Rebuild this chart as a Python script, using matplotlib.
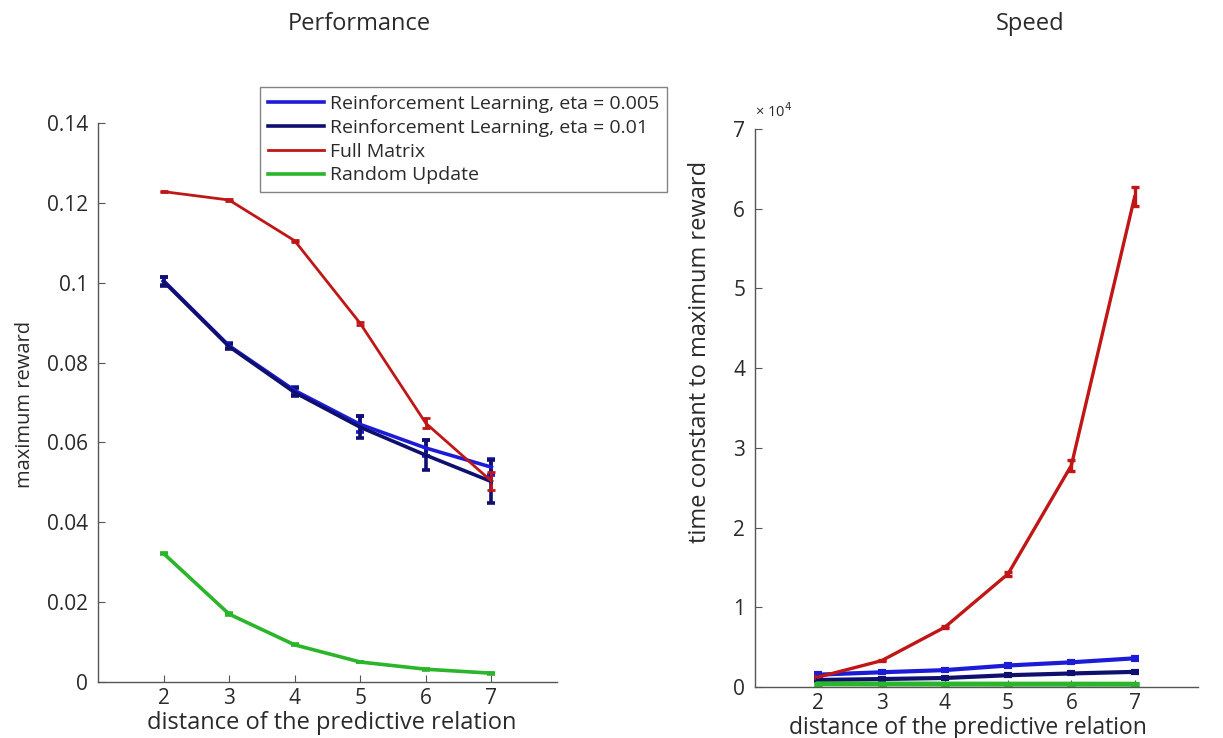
import numpy as np
import matplotlib.pyplot as plt

plt.rcParams['font.family'] = ['Open Sans', 'DejaVu Sans']

dist = [2, 3, 4, 5, 6, 7]

# performance: maximum reward (mean and error)
rl005_perf = [0.1005, 0.0842, 0.0730, 0.0645, 0.0586, 0.0538]
rl005_perf_err = [0.0010, 0.0006, 0.0008, 0.0020, 0.0020, 0.0020]
rl01_perf = [0.1003, 0.0840, 0.0725, 0.0638, 0.0568, 0.0502]
rl01_perf_err = [0.0012, 0.0006, 0.0010, 0.0028, 0.0038, 0.0055]
full_perf = [0.1228, 0.1207, 0.1105, 0.0898, 0.0648, 0.0503]
full_perf_err = [0.0002, 0.0002, 0.0002, 0.0003, 0.0012, 0.0022]
rand_perf = [0.0322, 0.0170, 0.0093, 0.0050, 0.0032, 0.0022]
rand_perf_err = [0.0002, 0.0002, 0.0001, 0.0001, 0.0001, 0.0001]

# speed: time constant to maximum reward
rl005_speed = [1550, 1850, 2120, 2700, 3100, 3600]
rl005_speed_err = [150, 120, 120, 150, 150, 200]
rl01_speed = [880, 1000, 1130, 1480, 1700, 1900]
rl01_speed_err = [100, 100, 100, 120, 120, 150]
full_speed = [1250, 3300, 7500, 14200, 27800, 61500]
full_speed_err = [100, 100, 150, 250, 700, 1200]
rand_speed = [400, 380, 370, 360, 360, 350]
rand_speed_err = [30, 30, 30, 30, 30, 30]

labels = ['Reinforcement Learning, eta = 0.005',
          'Reinforcement Learning, eta = 0.01',
          'Full Matrix',
          'Random Update']
colors = ['#1c1cd8', '#0f0f70', '#c01616', '#2bb52b']
widths_perf = [2.6, 2.6, 2.0, 2.6]
widths_speed = [3.0, 3.0, 2.4, 3.6]

text_col = '#2a2a2a'
spine_col = '#555555'

fig = plt.figure(figsize=(12.23, 7.38), dpi=100)
ax1 = fig.add_axes([0.0801, 0.0759, 0.3753, 0.7575])
ax2 = fig.add_axes([0.6173, 0.0691, 0.3622, 0.7561])


def style(ax):
    for s in ['top', 'right']:
        ax.spines[s].set_visible(False)
    for s in ['left', 'bottom']:
        ax.spines[s].set_color(spine_col)
        ax.spines[s].set_linewidth(1.0)
    ax.tick_params(direction='in', length=5, color=spine_col, labelsize=15,
                   labelcolor=text_col)
    ax.tick_params(axis='y', pad=7)
    ax.tick_params(axis='x', pad=4)
    ax.set_xlim(1, 8)
    ax.set_xticks(dist)


perf = [(rl005_perf, rl005_perf_err), (rl01_perf, rl01_perf_err),
        (full_perf, full_perf_err), (rand_perf, rand_perf_err)]
speed = [(rl005_speed, rl005_speed_err), (rl01_speed, rl01_speed_err),
         (full_speed, full_speed_err), (rand_speed, rand_speed_err)]

handles = []
for (y, e), c, w, lab in zip(perf, colors, widths_perf, labels):
    h = ax1.errorbar(dist, y, yerr=e, color=c, lw=w, elinewidth=w,
                     capsize=3, capthick=w, label=lab)
    handles.append(h.lines[0])
for (y, e), c, w in zip(speed, colors, widths_speed):
    ax2.errorbar(dist, y, yerr=e, color=c, lw=w, elinewidth=w,
                 capsize=3, capthick=w)

style(ax1)
ax1.set_ylim(0, 0.14)
ax1.set_yticks([0, 0.02, 0.04, 0.06, 0.08, 0.1, 0.12, 0.14])
ax1.set_yticklabels(['0', '0.02', '0.04', '0.06', '0.08', '0.1', '0.12', '0.14'])
ax1.set_xlabel('distance of the predictive relation', fontsize=17,
               color=text_col)
ax1.xaxis.set_label_coords(0.51, -0.052)
ax1.set_ylabel('maximum reward', fontsize=14.5, color=text_col)
ax1.yaxis.set_label_coords(-0.138, 0.497)

style(ax2)
ax2.set_ylim(0, 70000)
ax2.set_yticks(np.arange(0, 70001, 10000))
ax2.set_yticklabels([str(i) for i in range(8)])
ax2.text(0.0, 1.014, r'× 10$^{4}$', transform=ax2.transAxes, fontsize=10.5,
         color=text_col, ha='left', va='bottom')
ax2.set_xlabel('distance of the predictive relation', fontsize=16.5,
               color=text_col)
ax2.xaxis.set_label_coords(0.48, -0.052)
ax2.set_ylabel('time constant to maximum reward', fontsize=17, color=text_col)
ax2.yaxis.set_label_coords(-0.097, 0.6)

fig.text(0.2935, 0.968, 'Performance', fontsize=17, color=text_col,
         ha='center', va='center')
fig.text(0.8422, 0.968, 'Speed', fontsize=17, color=text_col,
         ha='center', va='center')

leg = fig.legend(handles, labels, loc='upper left',
                 bbox_to_anchor=(0.2126, 0.882), fontsize=14,
                 frameon=True, fancybox=False, edgecolor='#666666',
                 handlelength=2.9, handletextpad=0.3, labelspacing=0.3,
                 borderpad=0.4, borderaxespad=0)
leg.get_frame().set_linewidth(1.0)
for t in leg.get_texts():
    t.set_color(text_col)

fig.savefig('out.png', dpi=100)
